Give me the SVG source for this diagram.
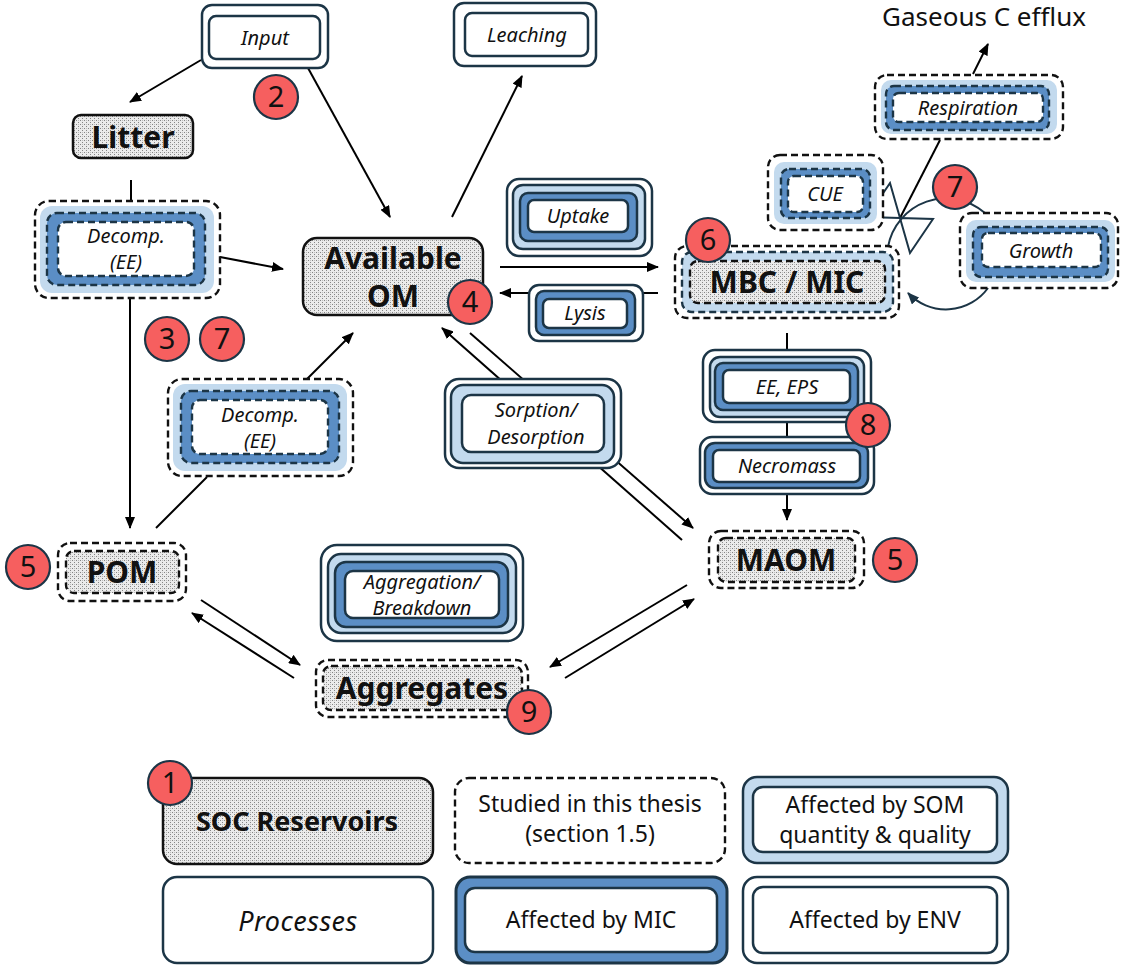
<svg xmlns="http://www.w3.org/2000/svg" width="1121" height="967" viewBox="0 0 1121 967">
<defs>
<pattern id="stip" width="4" height="4" patternUnits="userSpaceOnUse"><rect width="4" height="4" fill="#ebebeb"/><rect width="1" height="1" fill="#858585"/><rect x="2" y="2" width="1" height="1" fill="#858585"/><rect x="2" y="0" width="1" height="1" fill="#bdbdbd"/></pattern>
<marker id="ah" viewBox="0 0 12 10" refX="11" refY="5" markerWidth="12" markerHeight="10" markerUnits="userSpaceOnUse" orient="auto"><path d="M0,0 L12,5 L0,10 z" fill="#000"/></marker>
<marker id="ahn" viewBox="0 0 12 10" refX="11" refY="5" markerWidth="12" markerHeight="10" markerUnits="userSpaceOnUse" orient="auto"><path d="M0,0 L12,5 L0,10 z" fill="#1c3546"/></marker>
</defs>
<style>
.env{fill:#fff;stroke:#1c3546;stroke-width:2.5}
.envd{fill:#fff;stroke:#111;stroke-width:2.4;stroke-dasharray:7 4}
.som{fill:#c3daee;stroke:#1c3546;stroke-width:2.5}
.somf{fill:#c3daee;stroke:none}
.somd{fill:#c3daee;stroke:#1c3546;stroke-width:2.4;stroke-dasharray:7 4}
.mic{fill:#5b8ec5;stroke:#1c3546;stroke-width:2.5}
.micd{fill:#5b8ec5;stroke:#1c3546;stroke-width:2.4;stroke-dasharray:7 4}
.inn{fill:#fff;stroke:#1c3546;stroke-width:2.5}
.innd{fill:#fff;stroke:#1c3546;stroke-width:2.4;stroke-dasharray:7 4}
.res{fill:url(#stip);stroke:#111;stroke-width:2.5}
.resd{fill:url(#stip);stroke:#111;stroke-width:2.4;stroke-dasharray:7 4}
.ln{stroke:#000;stroke-width:2;fill:none}
.lnn{stroke:#1c3546;stroke-width:2;fill:none}
.it{font-family:"Noto Sans",sans-serif;font-style:italic;font-size:20px;fill:#111;text-anchor:middle}
.bd{font-family:"Noto Sans",sans-serif;font-weight:bold;font-size:30px;fill:#111;text-anchor:middle}
.lg{font-family:"Noto Sans",sans-serif;font-size:23px;fill:#111;text-anchor:middle}
.bdg circle{fill:#f65f5f;stroke:#1c3546;stroke-width:2.2}
.bdg text{font-family:"Noto Sans",sans-serif;font-size:29px;fill:#111;text-anchor:middle}
</style>

<g id="connectors">
<line class="ln" x1="201" y1="60" x2="130" y2="102" marker-end="url(#ah)"/>
<line class="ln" x1="308" y1="68" x2="390" y2="217" marker-end="url(#ah)"/>
<line class="ln" x1="452" y1="217" x2="522" y2="76" marker-end="url(#ah)"/>
<line class="ln" x1="131" y1="180" x2="131" y2="201"/>
<line class="ln" x1="130" y1="298" x2="130" y2="528" marker-end="url(#ah)"/>
<line class="ln" x1="220" y1="257" x2="283" y2="269" marker-end="url(#ah)"/>
<line class="ln" x1="156" y1="528" x2="207" y2="477"/>
<line class="ln" x1="307" y1="379" x2="353" y2="333" marker-end="url(#ah)"/>
<line class="ln" x1="500" y1="267" x2="658" y2="267" marker-end="url(#ah)"/>
<line class="ln" x1="658" y1="293" x2="500" y2="293" marker-end="url(#ah)"/>
<line class="ln" x1="682" y1="540" x2="442" y2="328" marker-end="url(#ah)"/>
<line class="ln" x1="470" y1="333" x2="693" y2="528" marker-end="url(#ah)"/>
<line class="ln" x1="787" y1="333" x2="787" y2="350"/>
<line class="ln" x1="787" y1="422" x2="787" y2="437"/>
<line class="ln" x1="787" y1="494" x2="787" y2="520" marker-end="url(#ah)"/>
<line class="ln" x1="201" y1="600" x2="300" y2="665" marker-end="url(#ah)"/>
<line class="ln" x1="294" y1="678" x2="192" y2="613" marker-end="url(#ah)"/>
<line class="ln" x1="687" y1="585" x2="550" y2="667" marker-end="url(#ah)"/>
<line class="ln" x1="565" y1="678" x2="694" y2="599" marker-end="url(#ah)"/>
<line class="ln" x1="973" y1="74" x2="988" y2="44" marker-end="url(#ah)"/>
<line class="ln" x1="940" y1="140" x2="900" y2="218"/>
<path class="lnn" d="M888,247 A59,59 0 0 1 985,213"/>
<path class="lnn" d="M988,288 A52,52 0 0 1 908,293" marker-end="url(#ahn)"/>
<polygon class="lnn" points="900,218 933,219 910,253"/>
<polygon class="lnn" points="900,218 867,217 890,183"/>
</g>

<g id="input">
<rect class="env" x="202" y="5" width="126" height="63" rx="10"/>
<rect class="inn" x="209" y="16" width="111" height="43" rx="7"/>
<text class="it" x="265" y="45">Input</text>
</g>
<g id="leaching">
<rect class="env" x="454" y="3" width="142" height="63" rx="10"/>
<rect class="inn" x="465" y="13" width="123" height="43" rx="7"/>
<text class="it" x="527" y="42">Leaching</text>
</g>
<g id="litter">
<rect class="res" x="73" y="115" width="120" height="43" rx="8"/>
<text class="bd" x="133" y="148">Litter</text>
</g>
<g id="decomp1">
<rect class="envd" x="35" y="201" width="185" height="97" rx="14"/>
<rect class="somf" x="40" y="206" width="174" height="87" rx="12"/>
<rect class="micd" x="47" y="213" width="158" height="72" rx="10"/>
<rect class="innd" x="58" y="222" width="136" height="54" rx="8"/>
<text class="it" x="126" y="243">Decomp.<tspan x="126" dy="26">(EE)</tspan></text>
</g>
<g id="available-om">
<rect class="res" x="303" y="238" width="180" height="77" rx="14"/>
<text class="bd" x="393" y="269">Available<tspan x="393" dy="38">OM</tspan></text>
</g>
<g id="uptake">
<rect class="env" x="507" y="179" width="145" height="77" rx="12"/>
<rect class="som" x="513" y="185" width="132" height="64" rx="10"/>
<rect class="mic" x="520" y="193" width="117" height="48" rx="8"/>
<rect class="inn" x="528" y="200" width="100" height="32" rx="6"/>
<text class="it" x="578" y="223">Uptake</text>
</g>
<g id="lysis">
<rect class="env" x="529" y="285" width="114" height="56" rx="10"/>
<rect class="mic" x="536" y="291" width="99" height="44" rx="8"/>
<rect class="inn" x="543" y="299" width="84" height="29" rx="6"/>
<text class="it" x="585" y="320">Lysis</text>
</g>
<g id="mbc-mic">
<rect class="envd" x="675" y="246" width="224" height="72" rx="12"/>
<rect class="somd" x="682" y="252" width="211" height="60" rx="10"/>
<rect class="resd" x="690" y="261" width="195" height="42" rx="8"/>
<text class="bd" x="787" y="293">MBC / MIC</text>
</g>
<g id="cue">
<rect class="envd" x="768" y="155" width="115" height="75" rx="12"/>
<rect class="somf" x="774" y="162" width="103" height="62" rx="10"/>
<rect class="micd" x="781" y="169" width="89" height="49" rx="8"/>
<rect class="innd" x="788" y="176" width="75" height="36" rx="6"/>
<text class="it" x="825" y="201">CUE</text>
</g>
<g id="respiration">
<rect class="envd" x="875" y="75" width="188" height="64" rx="12"/>
<rect class="somf" x="881" y="80" width="176" height="54" rx="10"/>
<rect class="micd" x="886" y="86" width="163" height="44" rx="8"/>
<rect class="innd" x="893" y="93" width="150" height="29" rx="6"/>
<text class="it" x="968" y="115">Respiration</text>
</g>
<g id="gaseous">
<text class="lg" x="984" y="26" style="font-size:26px">Gaseous C efflux</text>
</g>
<g id="growth">
<rect class="envd" x="960" y="213" width="158" height="75" rx="12"/>
<rect class="somf" x="966" y="220" width="149" height="62" rx="10"/>
<rect class="micd" x="973" y="227" width="135" height="50" rx="8"/>
<rect class="innd" x="982" y="233" width="119" height="34" rx="6"/>
<text class="it" x="1041" y="258">Growth</text>
</g>
<g id="ee-eps">
<rect class="env" x="703" y="350" width="168" height="72" rx="12"/>
<rect class="som" x="710" y="357" width="154" height="60" rx="10"/>
<rect class="mic" x="715" y="363" width="143" height="47" rx="8"/>
<rect class="inn" x="723" y="370" width="127" height="33" rx="6"/>
<text class="it" x="787" y="394">EE, EPS</text>
</g>
<g id="necromass">
<rect class="env" x="700" y="437" width="174" height="57" rx="12"/>
<rect class="mic" x="705" y="443" width="163" height="45" rx="10"/>
<rect class="inn" x="713" y="450" width="147" height="32" rx="6"/>
<text class="it" x="787" y="473">Necromass</text>
</g>
<g id="sorption">
<rect class="env" x="445" y="379" width="176" height="89" rx="14"/>
<rect class="som" x="451" y="385" width="163" height="78" rx="12"/>
<rect class="inn" x="462" y="395" width="142" height="57" rx="9"/>
<text class="it" x="536" y="417">Sorption/<tspan x="536" dy="27">Desorption</tspan></text>
</g>
<g id="decomp2">
<rect class="envd" x="168" y="379" width="185" height="97" rx="14"/>
<rect class="somf" x="173" y="384" width="174" height="87" rx="12"/>
<rect class="micd" x="181" y="391" width="158" height="72" rx="10"/>
<rect class="innd" x="192" y="400" width="136" height="54" rx="8"/>
<text class="it" x="260" y="422">Decomp.<tspan x="260" dy="26">(EE)</tspan></text>
</g>
<g id="pom">
<rect class="envd" x="58" y="543" width="128" height="58" rx="12"/>
<rect class="resd" x="66" y="551" width="113" height="42" rx="8"/>
<text class="bd" x="122" y="583">POM</text>
</g>
<g id="maom">
<rect class="envd" x="709" y="531" width="155" height="57" rx="12"/>
<rect class="resd" x="718" y="538" width="137" height="44" rx="8"/>
<text class="bd" x="786" y="571">MAOM</text>
</g>
<g id="aggregation">
<rect class="env" x="321" y="545" width="202" height="96" rx="16"/>
<rect class="som" x="328" y="554" width="188" height="79" rx="13"/>
<rect class="mic" x="335" y="562" width="173" height="65" rx="11"/>
<rect class="inn" x="345" y="571" width="154" height="47" rx="8"/>
<text class="it" x="422" y="589">Aggregation/<tspan x="422" dy="26">Breakdown</tspan></text>
</g>
<g id="aggregates">
<rect class="envd" x="316" y="660" width="212" height="57" rx="12"/>
<rect class="resd" x="323" y="666" width="199" height="44" rx="8"/>
<text class="bd" x="422" y="699">Aggregates</text>
</g>

<g id="legend">
<rect class="res" x="163" y="778" width="270" height="86" rx="14"/>
<text class="bd" x="297" y="831" style="font-size:27px">SOC Reservoirs</text>
<rect class="envd" x="455" y="778" width="270" height="85" rx="14"/>
<text class="lg" x="590" y="812">Studied in this thesis<tspan x="590" dy="30">(section 1.5)</tspan></text>
<rect class="som" x="743" y="777" width="265" height="86" rx="14"/>
<rect class="inn" x="753" y="787" width="244" height="65" rx="10"/>
<text class="lg" x="875" y="813">Affected by SOM<tspan x="875" dy="30">quantity &amp; quality</tspan></text>
<rect class="env" x="163" y="877" width="270" height="86" rx="14"/>
<text class="lg" x="298" y="931" style="font-style:italic;font-size:27px;letter-spacing:0.5px">Processes</text>
<rect class="mic" x="456" y="877" width="271" height="86" rx="14" style="stroke-width:3"/>
<rect class="inn" x="465" y="888" width="252" height="64" rx="10"/>
<text class="lg" x="591" y="928">Affected by MIC</text>
<rect class="env" x="743" y="877" width="265" height="86" rx="14"/>
<rect class="inn" x="753" y="887" width="244" height="66" rx="10"/>
<text class="lg" x="875" y="928">Affected by ENV</text>
</g>

<g id="badges" class="bdg">
<circle cx="276" cy="97" r="22"/><text x="276" y="107">2</text>
<circle cx="470" cy="302" r="22"/><text x="470" y="312">4</text>
<circle cx="708" cy="240" r="22"/><text x="708" y="250">6</text>
<circle cx="955" cy="187" r="22"/><text x="955" y="197">7</text>
<circle cx="167" cy="339" r="22"/><text x="167" y="349">3</text>
<circle cx="222" cy="339" r="22"/><text x="222" y="349">7</text>
<circle cx="28" cy="567" r="22"/><text x="28" y="577">5</text>
<circle cx="895" cy="560" r="22"/><text x="895" y="570">5</text>
<circle cx="868" cy="425" r="22"/><text x="868" y="435">8</text>
<circle cx="529" cy="712" r="22"/><text x="529" y="722">9</text>
<circle cx="170" cy="783" r="22"/><text x="170" y="793">1</text>
</g>
</svg>
